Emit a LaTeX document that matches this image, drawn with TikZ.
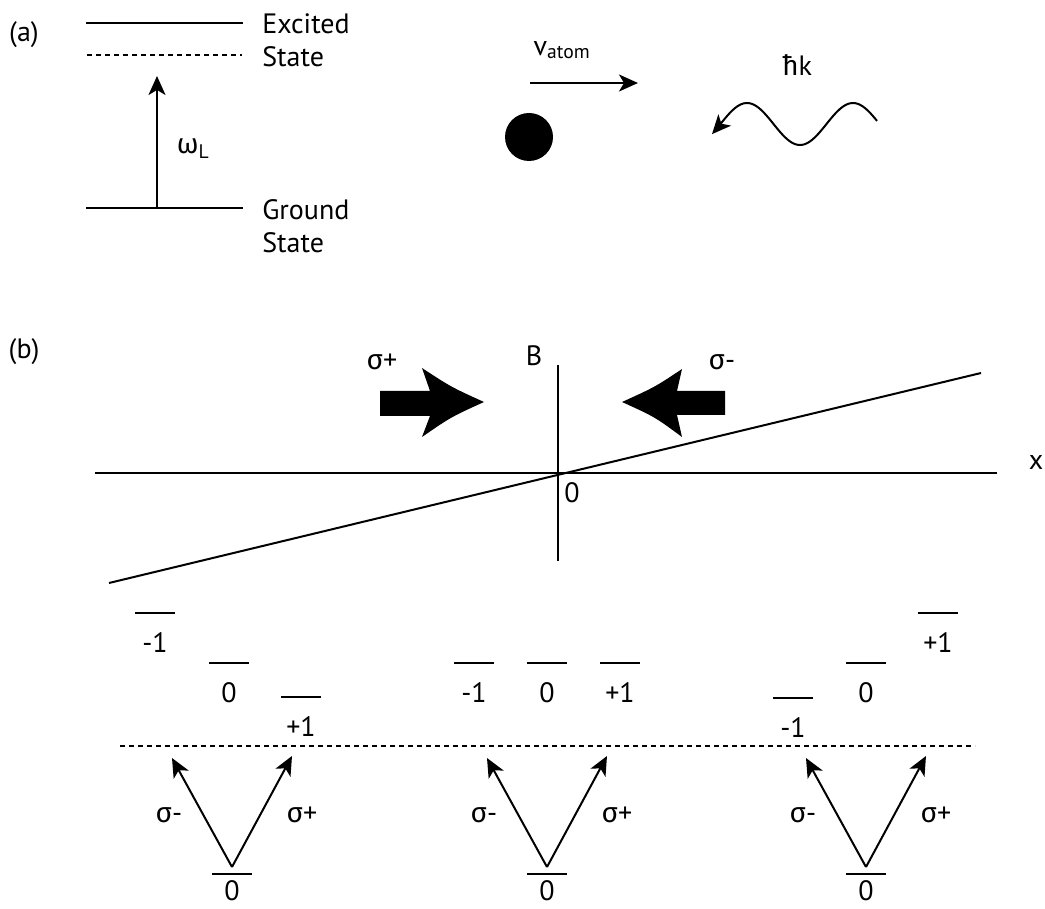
\documentclass[tikz,border=0pt]{standalone}
\usepackage{fontspec}
\setmainfont{PT Sans}
\newfontfamily\grk{Fira Sans}
\usepackage{tikz}
\usetikzlibrary{positioning}
\usetikzlibrary{arrows.meta}
\newcommand\sgm{{\grk σ}}
\tikzset{
	arr/.style = {-{Stealth[length=19pt, width=17pt, inset=5pt]}},
	lvl/.style = {anchor = north, minimum width = 38pt, inner xsep = 0pt,
		inner ysep = 1pt, text height = 37pt, text depth = 0pt,
		append after command = {(\tikzlastnode.north west) edge (\tikzlastnode.north east)}},
	glvl/.style = {lvl, text height = 24pt},
	wlvl/.style = {minimum width = 155pt, minimum height = 0pt, inner sep = 0pt,
		append after command = {(\tikzlastnode.west) edge (\tikzlastnode.east)}},
	virt/.style = {dash pattern = on 5pt off 4pt},
}
\begin{document}
\begin{tikzpicture}[x=1pt, y=-1pt, line width=2pt,
	font=\fontsize{28}{33}\selectfont]
	\useasboundingbox (0,0) rectangle (1045,909);
	% (a) two level atom
	\node (a) at (24,35) {(a)};
	\node (ex) [wlvl] at (164.5,23) {};
	\node (gr) [wlvl] at (164.5,208) {};
	\coordinate (vs0) at (87,55);
	\coordinate (vs1) at (242,55);
	\draw[virt] (vs0) -- (vs1);
	\node (extxt) [anchor=west, align=left] at (258,40) {Excited\\State};
	\node (grtxt) [anchor=west, align=left] at (258,226) {Ground\\State};
	\coordinate (wl0) at (157,207);
	\coordinate (wl1) at (157,76);
	\draw[arr] (wl0) -- (wl1);
	\node (om) at (193,149) {{\grk ω}\textsubscript{L}};
	% moving atom and photon
	\node (atom) [circle, fill, minimum size=48pt, inner sep=0pt] at (529,137) {};
	\node (vat) at (562,50) {v\textsubscript{atom}};
	\coordinate (va0) at (530,83);
	\coordinate (va1) at (638,83);
	\draw[arr] (va0) -- (va1);
	\node (hk) at (797,65) {{\grk ħ}k};
	\draw[arr] plot[domain=877:712, samples=80, smooth] (\x,{124+21*cos((\x-800)*180/53)});
	% (b) field and beams
	\node (b) at (24,352) {(b)};
	\coordinate (xl) at (95,473);
	\coordinate (xr) at (997,473);
	\coordinate (bt) at (558,365);
	\coordinate (bb) at (558,561);
	\coordinate (fl) at (109,583);
	\coordinate (fr) at (981,373);
	\draw (xl) -- (xr);
	\draw (bt) -- (bb);
	\draw (fl) -- (fr);
	\node (xlab) at (1036,462) {x};
	\node (zero) at (572,493) {0};
	\node (blab) at (534,356) {B};
	\node (sp) at (382,362) {\sgm+};
	\node (sm) at (722,362) {\sgm-};
	\fill (380,391) -- (430,391) -- (422,368) .. controls (451,387) .. (484,402)
		.. controls (451,417) .. (422,437) -- (430,416) -- (380,416) -- cycle;
	\fill (725,391) -- (677,391) -- (682,369) .. controls (655,387) .. (622,402)
		.. controls (655,417) .. (682,437) -- (677,415) -- (725,415) -- cycle;
	% Zeeman levels
	\node (l1m) [lvl] at (155,613) {-1};
	\node (l1z) [lvl] at (229,663) {0};
	\node (l1p) [lvl] at (301,697) {+1};
	\node (l2m) [lvl] at (474,663) {-1};
	\node (l2z) [lvl] at (547,663) {0};
	\node (l2p) [lvl] at (620,663) {+1};
	\node (l3m) [lvl] at (793,698) {-1};
	\node (l3z) [lvl] at (866,663) {0};
	\node (l3p) [lvl] at (938,613) {+1};
	\coordinate (dl0) at (120,746);
	\coordinate (dl1) at (975,746);
	\draw[virt] (dl0) -- (dl1);
	% transitions
	\foreach \g/\x in {1/232, 2/547, 3/866} {
		\node (g\g) [glvl] at (\x,874) {0};
		\coordinate (m\g) at (\x-60,758);
		\coordinate (p\g) at (\x+60,756);
		\draw[arr] ([yshift=7pt]g\g.north) -- (m\g);
		\draw[arr] ([yshift=7pt]g\g.north) -- (p\g);
		\node (sm\g) at (\x-63,815) {\sgm-};
		\node (sp\g) at (\x+70,815) {\sgm+};
	}
\end{tikzpicture}
\end{document}
